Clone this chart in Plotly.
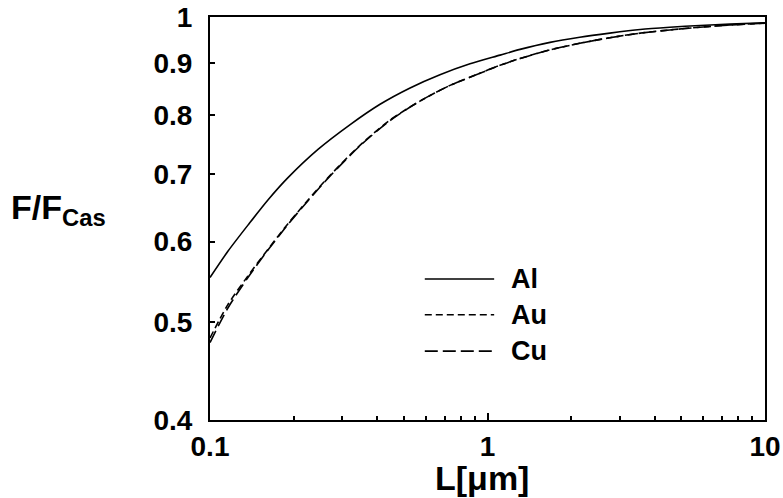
import plotly.graph_objects as go

# Data
L_al = [0.1, 0.116, 0.137, 0.162, 0.191, 0.245, 0.32, 0.41, 0.526, 0.674, 0.865, 1.11, 1.31, 1.68, 2.15, 2.76, 3.55, 4.54, 5.83, 7.48, 10]
F_al = [0.553, 0.587, 0.623, 0.660, 0.694, 0.740, 0.783, 0.820, 0.851, 0.877, 0.899, 0.917, 0.929, 0.944, 0.955, 0.964, 0.972, 0.977, 0.981, 0.984, 0.987]

L_cu = [0.1, 0.116, 0.137, 0.162, 0.191, 0.226, 0.27, 0.347, 0.445, 0.571, 0.733, 0.94, 1.11, 1.31, 1.68, 2.15, 2.76, 3.55, 4.54, 5.83, 7.48, 10]
F_cu = [0.477, 0.516, 0.553, 0.589, 0.624, 0.659, 0.696, 0.746, 0.790, 0.826, 0.856, 0.880, 0.896, 0.910, 0.928, 0.942, 0.954, 0.964, 0.971, 0.977, 0.982, 0.986]

L_au = [0.1, 0.116, 0.137, 0.162, 0.191, 0.226, 0.27, 0.347, 0.445, 0.571, 0.733, 0.94, 1.11, 1.31, 1.68, 2.15, 2.76, 3.55, 4.54, 5.83, 7.48, 10]
F_au = [0.482, 0.520, 0.555, 0.590, 0.625, 0.660, 0.697, 0.747, 0.791, 0.826, 0.856, 0.880, 0.896, 0.910, 0.928, 0.942, 0.954, 0.964, 0.971, 0.977, 0.982, 0.986]

x_major = [0.1, 1, 10]
x_major_text = ["0.1", "1", "10"]
x_minor = [0.2, 0.3, 0.4, 0.5, 0.6, 0.7, 0.8, 0.9, 2, 3, 4, 5, 6, 7, 8, 9]
y_ticks = [0.4, 0.5, 0.6, 0.7, 0.8, 0.9, 1]
y_tick_text = ["0.4", "0.5", "0.6", "0.7", "0.8", "0.9", "1"]

series_names = ["Al", "Au", "Cu"]
dashes = ["solid", "7px,4px", "13px,5px"]

FONT = "Arial, Liberation Sans, sans-serif"

fig = go.Figure()
for name, xs, ys, d in zip(series_names, [L_al, L_au, L_cu], [F_al, F_au, F_cu], dashes):
    fig.add_trace(go.Scatter(x=xs, y=ys, mode="lines", name=name, showlegend=False,
                             line=dict(color="black", width=1.6, dash=d, shape="spline", smoothing=0.8)))

# manual legend
leg_y = [0.350, 0.261, 0.171]
for name, d, yy in zip(series_names, dashes, leg_y):
    fig.add_shape(type="line", xref="paper", yref="paper", x0=0.387, x1=0.512, y0=yy, y1=yy,
                  line=dict(color="black", width=1.6, dash=d))
    fig.add_annotation(xref="paper", yref="paper", x=0.538, y=yy, text=name, showarrow=False,
                       xanchor="left", yanchor="middle",
                       font=dict(family=FONT, size=27, color="black", weight="bold"))

fig.add_annotation(xref="paper", yref="paper", x=-0.362, y=0.523, text="F/F<sub>Cas</sub>",
                   showarrow=False, xanchor="left", yanchor="middle",
                   font=dict(family=FONT, size=34, color="black", weight="bold"))

fig.add_annotation(xref="paper", yref="paper", x=0.49, y=-0.144, text="L[μm]",
                   showarrow=False, xanchor="center", yanchor="middle",
                   font=dict(family=FONT, size=34, color="black", weight="bold"))

fig.update_layout(
    template="none",
    width=783, height=498,
    margin=dict(l=210, r=18, t=17, b=78),
    paper_bgcolor="white", plot_bgcolor="white",
    font=dict(family=FONT, color="black"),
    showlegend=False,
    xaxis=dict(type="log", range=[-1, 1], tickvals=x_major, ticktext=x_major_text,
               automargin=False,
               ticks="inside", ticklen=7, tickwidth=1.5, tickcolor="black",
               showline=True, linecolor="black", linewidth=2, mirror=True,
               showgrid=False, zeroline=False, ticklabelstandoff=0,
               tickfont=dict(family=FONT, size=28, color="black", weight="bold"),
               minor=dict(tickvals=x_minor, ticks="inside", ticklen=4, tickwidth=1.5,
                          tickcolor="black", showgrid=False)),
    yaxis=dict(type="log", range=[-0.39794, 0], tickvals=y_ticks, ticktext=y_tick_text,
               automargin=False,
               ticks="inside", ticklen=5, tickwidth=1.5, tickcolor="black",
               showline=True, linecolor="black", linewidth=2, mirror=True,
               showgrid=False, zeroline=False, ticklabelstandoff=10,
               tickfont=dict(family=FONT, size=28, color="black", weight="bold")),
)

fig.write_html("out.html", config={"displayModeBar": False},
               post_script="document.body.style.margin='0';document.body.style.overflow='hidden';")
